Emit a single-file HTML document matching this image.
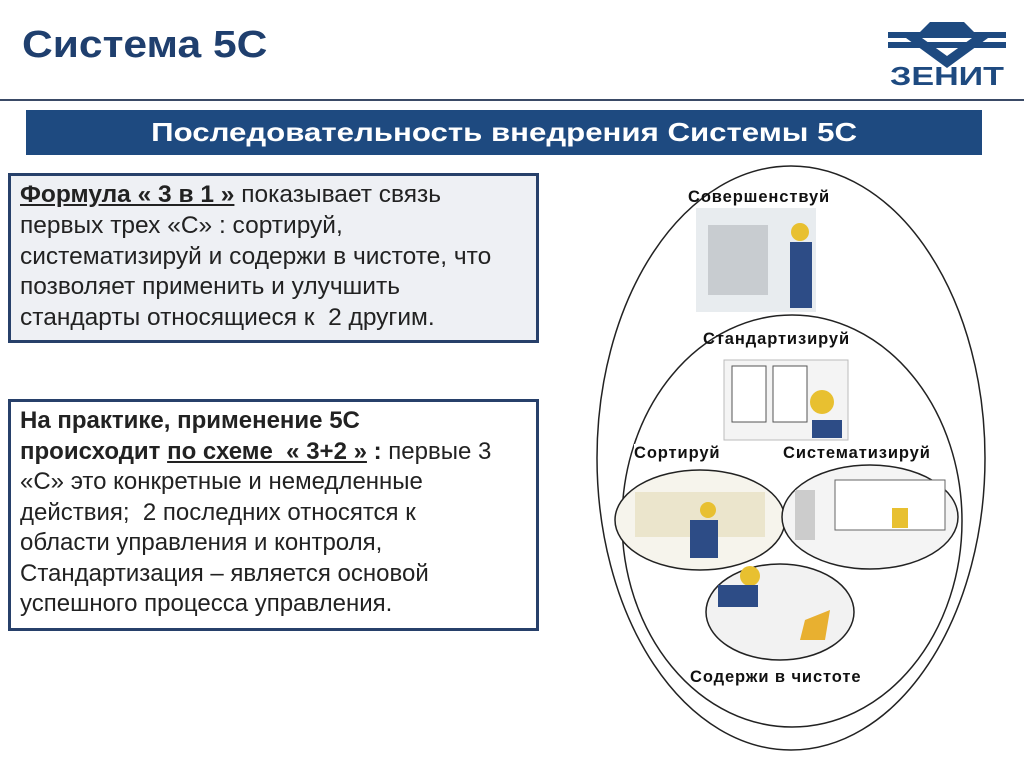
<!DOCTYPE html>
<html><head><meta charset="utf-8"><style>
*{margin:0;padding:0;box-sizing:border-box}
body{width:1024px;height:767px;background:#fff;position:relative;overflow:hidden;font-family:"Liberation Sans",sans-serif}
.abs{position:absolute}
.title{left:22px;top:24px;font-size:38px;font-weight:bold;color:#1f3f6e;white-space:nowrap;transform:scaleX(1.12);transform-origin:left}
.hline{left:0;top:99px;width:1024px;height:2px;background:#3a4a66}
.bar{left:26px;top:110px;width:956px;height:45px;background:#1e4a80;color:#fff;font-size:26px;font-weight:bold;text-align:center;line-height:45px}
.bar span{display:inline-block;transform:scaleX(1.2)}
.box{border:3px solid #27406a;padding:4px 0 0 9px;font-size:24.5px;line-height:30.8px;color:#222;white-space:nowrap}
.lbl{font-weight:bold;font-size:16.5px;letter-spacing:0.9px;color:#111;white-space:nowrap}
</style></head><body>
<div class="abs title">Система 5С</div>
<svg class="abs" style="left:886px;top:18px" width="122" height="70" viewBox="0 0 122 70">
<rect width="122" height="70" fill="#fff"/>
<polygon points="44,4 78,4 88,14 34,14" fill="#1e4a80"/>
<rect x="2" y="14" width="118" height="6" fill="#1e4a80"/>
<rect x="2" y="24" width="118" height="6" fill="#1e4a80"/>
<polygon points="20,20 36,20 61,38 86,20 102,20 61,50" fill="#1e4a80"/>
<text x="4" y="67" font-family="Liberation Sans" font-weight="bold" font-size="26" fill="#1e4a80" textLength="114" lengthAdjust="spacingAndGlyphs">ЗЕНИТ</text>
</svg>
<div class="abs hline"></div>
<div class="abs bar"><span>Последовательность внедрения Системы 5С</span></div>
<div class="abs box" style="left:8px;top:173px;width:531px;height:170px;background:#eef0f4">
<b><u>Формула « 3 в 1 »</u></b> показывает связь<br>первых трех «С» : сортируй,<br>систематизируй и содержи в чистоте, что<br>позволяет применить и улучшить<br>стандарты относящиеся к &nbsp;2 другим.
</div>
<div class="abs box" style="left:8px;top:399px;width:531px;height:232px;background:#fff;line-height:30.5px;font-size:24px">
<b>На практике, применение 5С<br>происходит <u>по схеме &nbsp;« 3+2 »</u> :</b> первые 3<br>«С» это конкретные и немедленные<br>действия; &nbsp;2 последних относятся к<br>области управления и контроля,<br>Стандартизация – является основой<br>успешного процесса управления.
</div>
<svg class="abs" style="left:590px;top:160px" width="420" height="600" viewBox="590 160 420 600">
<ellipse cx="791" cy="458" rx="194" ry="292" fill="none" stroke="#222" stroke-width="1.5"/>
<ellipse cx="792" cy="521" rx="170" ry="206" fill="none" stroke="#222" stroke-width="1.5"/>
<ellipse cx="700" cy="520" rx="85" ry="50" fill="#f6f4ec" stroke="#222" stroke-width="1.5"/>
<ellipse cx="870" cy="517" rx="88" ry="52" fill="#f4f4f4" stroke="#222" stroke-width="1.5"/>
<ellipse cx="780" cy="612" rx="74" ry="48" fill="#f2f2f2" stroke="#222" stroke-width="1.5"/>
<rect x="696" y="208" width="120" height="104" fill="#e8ecef"/>
<rect x="708" y="225" width="60" height="70" fill="#c8ccd0"/>
<circle cx="800" cy="232" r="9" fill="#e8c030"/>
<rect x="790" y="242" width="22" height="66" fill="#2d4c86"/>
<rect x="724" y="360" width="124" height="80" fill="#f4f4f4" stroke="#bbb"/>
<rect x="732" y="366" width="34" height="56" fill="#fff" stroke="#555"/>
<rect x="773" y="366" width="34" height="56" fill="#fff" stroke="#555"/>
<circle cx="822" cy="402" r="12" fill="#e8c030"/>
<rect x="812" y="420" width="30" height="18" fill="#2d4c86"/>
<rect x="635" y="492" width="130" height="45" fill="#ebe5cc"/>
<rect x="690" y="520" width="28" height="38" fill="#2d4c86"/>
<circle cx="708" cy="510" r="8" fill="#e8c030"/>
<rect x="795" y="490" width="20" height="50" fill="#ccc"/>
<rect x="835" y="480" width="110" height="50" fill="#fff" stroke="#666"/>
<rect x="892" y="508" width="16" height="20" fill="#e8c030"/>
<circle cx="750" cy="576" r="10" fill="#e8c030"/>
<rect x="718" y="585" width="40" height="22" fill="#2d4c86"/>
<polygon points="805,620 830,610 825,640 800,640" fill="#e8b030"/>
</svg>
<div class="abs lbl" style="left:688px;top:188px">Совершенствуй</div>
<div class="abs lbl" style="left:703px;top:330px">Стандартизируй</div>
<div class="abs lbl" style="left:634px;top:444px;background:#fff">Сортируй</div>
<div class="abs lbl" style="left:783px;top:444px;background:#fff">Систематизируй</div>
<div class="abs lbl" style="left:690px;top:668px">Содержи в чистоте</div>
</body></html>
